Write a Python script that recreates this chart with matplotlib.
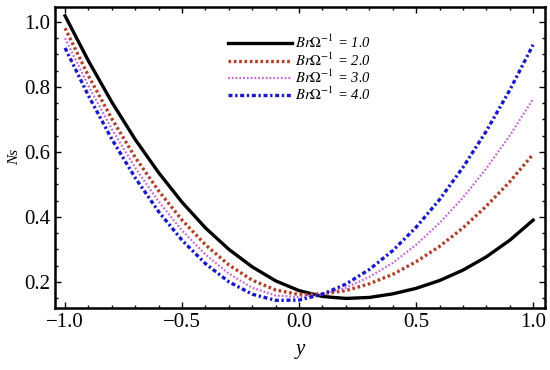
import numpy as np
import matplotlib
matplotlib.use("Agg")
import matplotlib.pyplot as plt
from matplotlib.ticker import MultipleLocator

y_vals = [-1.0, -0.9, -0.8, -0.7, -0.6, -0.5, -0.4, -0.3, -0.2, -0.1, 0.0,
          0.1, 0.2, 0.3, 0.4, 0.5, 0.6, 0.7, 0.8, 0.9, 1.0]

ns_br1 = [1.019, 0.880, 0.753, 0.638, 0.536, 0.445, 0.366, 0.300, 0.246, 0.203, 0.173,
          0.155, 0.149, 0.152, 0.163, 0.180, 0.204, 0.236, 0.277, 0.328, 0.390]
ns_br2 = [0.981, 0.834, 0.702, 0.583, 0.480, 0.390, 0.314, 0.252, 0.205, 0.175, 0.161,
          0.163, 0.173, 0.194, 0.223, 0.262, 0.309, 0.366, 0.433, 0.508, 0.593]
ns_br3 = [0.950, 0.803, 0.670, 0.551, 0.447, 0.358, 0.284, 0.225, 0.182, 0.158, 0.153,
          0.162, 0.182, 0.215, 0.258, 0.314, 0.381, 0.459, 0.549, 0.650, 0.763]
ns_br4 = [0.920, 0.773, 0.639, 0.520, 0.416, 0.328, 0.256, 0.200, 0.162, 0.143, 0.144,
          0.162, 0.193, 0.238, 0.296, 0.368, 0.453, 0.552, 0.664, 0.790, 0.930]

labels = [r'$\mathit{Br\Omega^{-1}}$ = 1.0', r'$\mathit{Br\Omega^{-1}}$ = 2.0',
          r'$\mathit{Br\Omega^{-1}}$ = 3.0', r'$\mathit{Br\Omega^{-1}}$ = 4.0']

plt.rcParams['font.family'] = ['Liberation Serif', 'DejaVu Serif']
plt.rcParams['mathtext.fontset'] = 'stix'

fig = plt.figure(figsize=(5.5, 3.7), dpi=100)
ax = fig.add_axes([0.1, 0.168, 0.891, 0.813])

ax.plot(y_vals, ns_br1, color='black', lw=2.4, ls='-', label=labels[0])
ax.plot(y_vals, ns_br2, color='#B0402A', lw=2.4, ls=(0, (0.8, 0.8)), label=labels[1])
ax.plot(y_vals, ns_br3, color='#C766D6', lw=1.6, ls=(0, (0.8, 0.9)), label=labels[2])
ax.plot(y_vals, ns_br4, color='#1818C8', lw=2.4, ls=(0, (1.2, 0.8, 0.7, 0.8)), label=labels[3])

ax.set_xlim(-1.043, 1.051)
ax.set_ylim(0.12, 1.046)
ax.xaxis.set_minor_locator(MultipleLocator(0.1))
ax.yaxis.set_minor_locator(MultipleLocator(0.05))
ax.set_xticks([-1.0, -0.5, 0.0, 0.5, 1.0])
ax.set_xticklabels(['\u22121.0', '\u22120.5', '0.0', '0.5', '1.0'])
ax.set_yticks([0.2, 0.4, 0.6, 0.8, 1.0])
ax.set_yticklabels(['0.2', '0.4', '0.6', '0.8', '1.0'])
ax.tick_params(which='both', direction='in', top=True, right=True, labelsize=15, width=1)
ax.tick_params(which='major', length=4)
ax.tick_params(which='minor', length=2)
for s in ax.spines.values():
    s.set_linewidth(1.8)

ax.set_xlabel('y', fontsize=15, style='italic', labelpad=6)
ax.set_ylabel('Ns', fontsize=11, style='italic', labelpad=2)

leg = ax.legend(loc='upper left', bbox_to_anchor=(0.353, 0.91), frameon=False,
                fontsize=10.5, handlelength=4.4, handletextpad=0.2, labelspacing=0.0,
                borderpad=0, borderaxespad=0)
for t in leg.get_texts():
    t.set_style('italic')

fig.savefig('out.png', dpi=100)
